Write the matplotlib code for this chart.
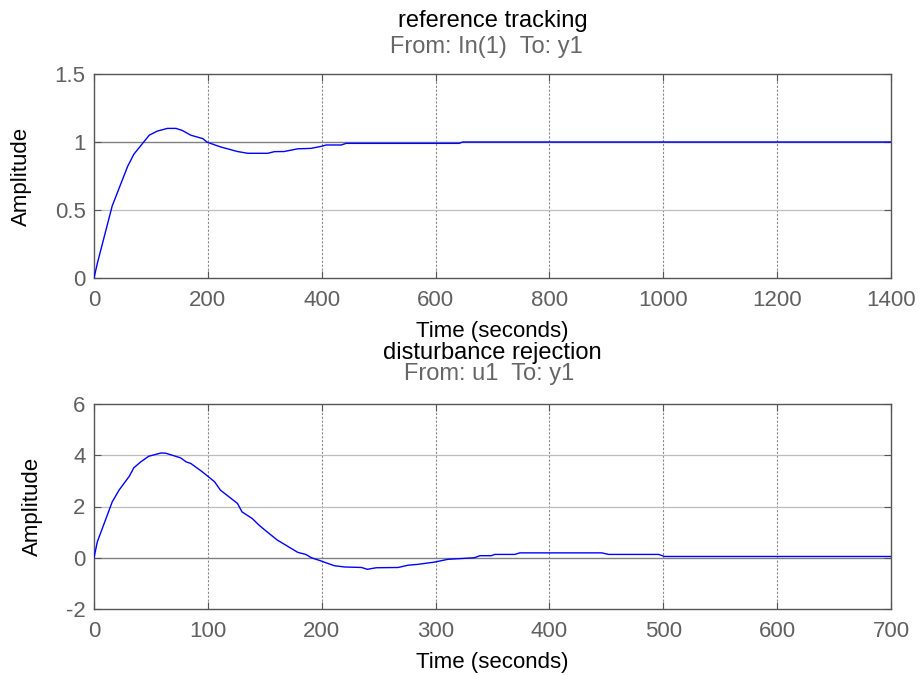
import matplotlib
matplotlib.use("Agg")
import matplotlib.pyplot as plt

# ---- data ----
t_ref = [0, 6, 32, 59, 70, 97, 111, 129, 144, 155, 170, 191, 199, 223, 252, 270,
         305, 317, 334, 358, 381, 399, 408, 434, 443, 641, 648, 1400]
y_ref = [0, 0.11, 0.53, 0.82, 0.91, 1.05, 1.08, 1.10, 1.10, 1.085, 1.05, 1.025,
         0.998, 0.963, 0.93, 0.917, 0.917, 0.929, 0.93, 0.95, 0.953, 0.968, 0.978,
         0.978, 0.99, 0.99, 1.0, 1.0]

t_dist = [0, 2.9, 16, 22, 31, 35, 41, 48, 59, 63, 76, 81, 85, 94, 100, 106, 111,
          126, 130, 139, 145, 152, 161, 170, 179, 186, 191, 199, 211, 220, 235,
          240, 248, 267, 276, 284, 299, 311, 323, 334, 339, 349, 352, 369.5, 374,
          446, 452, 496, 501, 700]
y_dist = [0, 0.62, 2.18, 2.64, 3.18, 3.51, 3.74, 3.96, 4.09, 4.08, 3.90, 3.74,
          3.68, 3.39, 3.18, 2.96, 2.64, 2.12, 1.79, 1.53, 1.27, 1.01, 0.69, 0.45,
          0.21, 0.13, 0.0, -0.12, -0.31, -0.36, -0.38, -0.45, -0.39, -0.38, -0.29,
          -0.26, -0.17, -0.06, -0.03, 0.0, 0.08, 0.08, 0.13, 0.13, 0.19, 0.19,
          0.13, 0.13, 0.05, 0.05]

ref_xticks = [0, 200, 400, 600, 800, 1000, 1200, 1400]
ref_yticks = [0, 0.5, 1, 1.5]
ref_yticklabels = ["0", "0.5", "1", "1.5"]
dist_xticks = [0, 100, 200, 300, 400, 500, 600, 700]
dist_yticks = [-2, 0, 2, 4, 6]

titles = ["reference tracking", "disturbance rejection"]
subtitles = ["From: In(1)  To: y1", "From: u1  To: y1"]
steady = [1.0, 0.0]

plt.rcParams['font.family'] = ['Liberation Sans', 'DejaVu Sans']
plt.rcParams['axes.unicode_minus'] = False
FS = 16
FT = 17

W, H = 923, 675
fig = plt.figure(figsize=(W / 100, H / 100), dpi=100)

def px_axes(l, t, r, b):
    return fig.add_axes([l / W, 1 - b / H, (r - l) / W, (b - t) / H])

ax1 = px_axes(94, 74, 891, 278)
ax2 = px_axes(94, 404, 891, 609)

spine_c = '#555555'
tick_c = '#606060'

def style(ax, xt, yt, ytl, xlim, ylim, yref, ylab_right_px):
    ax.set_xlim(*xlim)
    ax.set_ylim(*ylim)
    ax.set_xticks(xt)
    ax.set_yticks(yt)
    if ytl is not None:
        ax.set_yticklabels(ytl)
    for s in ax.spines.values():
        s.set_color(spine_c)
        s.set_linewidth(1.0)
    ax.tick_params(axis='both', direction='in', length=5, width=0.8,
                   color=spine_c, labelcolor=tick_c, labelsize=FS,
                   top=True, right=True)
    ax.tick_params(axis='x', pad=8.5)
    ax.tick_params(axis='y', pad=6)
    for v in xt[1:-1]:
        ax.axvline(v, color='#8a8a8a', lw=0.8, ls=(0, (2, 1.5)), zorder=1)
    for v in yt[1:-1]:
        if v != yref:
            ax.axhline(v, color='#bdbdbd', lw=0.9, zorder=1)
    ax.axhline(yref, color='#808080', lw=1.0, zorder=1.5)
    ax.set_xlabel("Time (seconds)", fontsize=FS, color='black', labelpad=7)
    ax.set_ylabel("Amplitude", fontsize=FS, color='black')
    ax.yaxis.set_label_coords((ylab_right_px - 94) / (891 - 94), 0.5)

style(ax1, ref_xticks, ref_yticks, ref_yticklabels, (0, 1400), (0, 1.5), steady[0], 32)
style(ax2, dist_xticks, dist_yticks, None, (0, 700), (-2, 6), steady[1], 43)

ax1.plot(t_ref, y_ref, color='#0000ff', lw=1.0, zorder=3)
ax2.plot(t_dist, y_dist, color='#0000ff', lw=1.0, zorder=3)

cx = (94 + 891) / 2 / W
fig.text(cx, 1 - 27 / H, titles[0], ha='center', va='baseline', fontsize=FT, color='black')
fig.text(cx - 6 / W, 1 - 53 / H, subtitles[0], ha='center', va='baseline', fontsize=FT, color='#666666')
fig.text(cx, 1 - 359 / H, titles[1], ha='center', va='baseline', fontsize=FT, color='black')
fig.text(cx - 3 / W, 1 - 380 / H, subtitles[1], ha='center', va='baseline', fontsize=FT, color='#666666')

fig.savefig("out.png", dpi=100)
